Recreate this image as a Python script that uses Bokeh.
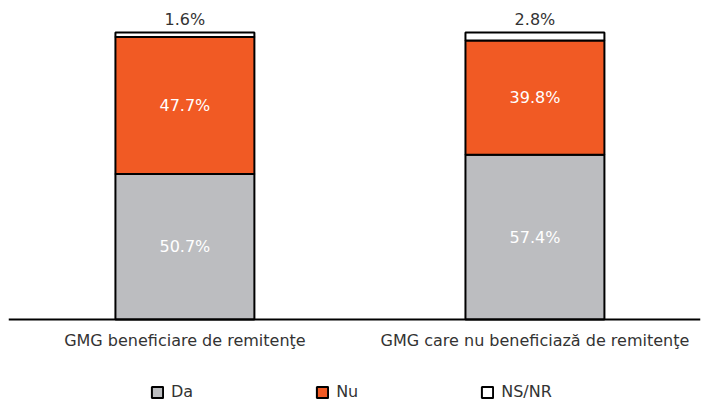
from bokeh.plotting import figure
from bokeh.models import Range1d, Legend, LegendItem, ColumnDataSource, FixedTicker
from bokeh.core.properties import value
from bokeh.embed import file_html
from bokeh.resources import INLINE

categories = ["GMG beneficiare de remitenţe", "GMG care nu beneficiază de remitenţe"]
series_names = ["Da", "Nu", "NS/NR"]
da = [50.7, 57.4]
nu = [47.7, 39.8]
nsnr = [1.6, 2.8]
colors = ["#BCBDC0", "#F15A24", "#FFFFFF"]

FONT = "DejaVu Sans"
xs = list(range(len(categories)))

p = figure(frame_width=692, frame_height=393, output_backend="svg", toolbar_location=None,
           x_range=Range1d(-0.504, 1.473), y_range=Range1d(-28.57, 108.36),
           min_border_left=8, min_border_right=6, min_border_top=8, min_border_bottom=0)
p.outline_line_color = None
p.grid.visible = False
p.yaxis.visible = False

bottoms = [0, 0]
renderers = []
for name, vals, col in zip(series_names, [da, nu, nsnr], colors):
    tops = [b + v for b, v in zip(bottoms, vals)]
    src = ColumnDataSource(dict(x=xs, bottom=bottoms, top=tops,
                                mid=[(b + t) / 2 for b, t in zip(bottoms, tops)],
                                lab=[f"{v:.1f}%" for v in vals]))
    r = p.vbar(x="x", bottom="bottom", top="top", width=0.397, source=src,
               fill_color=col, line_color="black", line_width=2)
    renderers.append(r)
    if name != "NS/NR":
        p.text(x="x", y="mid", text="lab", source=src, text_align="center",
               text_baseline="middle", text_color="white", text_font_size="16px",
               text_font=value(FONT))
    else:
        p.text(x="x", y="top", text="lab", source=src, text_align="center",
               text_baseline="bottom", text_color="#333333", text_font_size="16px",
               y_offset=-3, text_font=value(FONT))
    bottoms = tops

xa = p.xaxis[0]
xa.fixed_location = 0
xa.ticker = FixedTicker(ticks=xs)
xa.major_label_overrides = {i: c for i, c in zip(xs, categories)}
xa.major_tick_line_color = None
xa.minor_tick_line_color = None
xa.axis_line_color = "black"
xa.axis_line_width = 2
xa.major_label_text_font = FONT
xa.major_label_text_font_size = "16px"
xa.major_label_text_color = "#333333"
xa.major_label_standoff = 5

legend = Legend(items=[LegendItem(label=n, renderers=[r]) for n, r in zip(series_names, renderers)],
                orientation="horizontal", location=(142, 0), spacing=122,
                glyph_width=14, glyph_height=14, label_standoff=7,
                label_text_font=FONT, label_text_font_size="16px", label_text_color="#333333",
                border_line_color=None, background_fill_alpha=0, padding=0, margin=0)
p.add_layout(legend, "center")

open("out.html", "w").write(file_html(p, INLINE))
